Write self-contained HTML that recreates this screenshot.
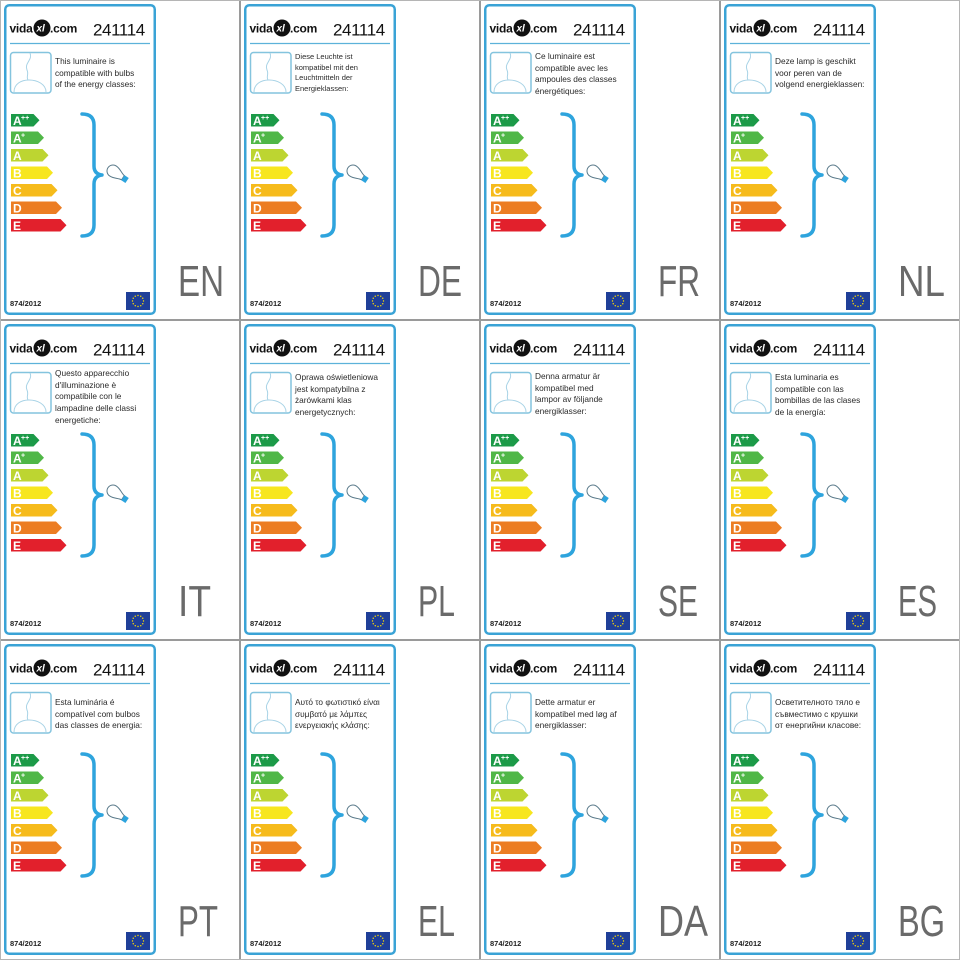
<!DOCTYPE html>
<html><head><meta charset="utf-8">
<style>
html,body{margin:0;padding:0;background:#fff;}
#wrap{position:relative;width:960px;height:960px;overflow:hidden;background:#fff;}
.cell{position:absolute;width:240px;height:320px;}
.cell svg{position:absolute;left:0;top:0;}
.txt{position:absolute;left:55px;font:8.3px/11.7px "Liberation Sans",sans-serif;color:#2a2a2a;white-space:nowrap;}
.vl{position:absolute;top:0;width:2px;height:960px;background:#9a9a9a;}
.hl{position:absolute;left:0;height:2px;width:960px;background:#9a9a9a;}
.L{font:bold 12px "Liberation Sans",sans-serif;fill:#fff;}
.S{font:bold 7px "Liberation Sans",sans-serif;fill:#fff;}
.lg{font:bold 12px "Liberation Sans",sans-serif;fill:#111;letter-spacing:-0.25px;}
.xl{font:italic bold 10px "Liberation Sans",sans-serif;fill:#fff;}
.nm{font:17px "Liberation Sans",sans-serif;fill:#111;letter-spacing:-0.4px;}
.rg{font:bold 7.5px "Liberation Sans",sans-serif;fill:#222;}
.cd{font:44px "Liberation Sans",sans-serif;fill:#6a6a6a;}
</style></head>
<body><div id="wrap">
<svg width="0" height="0" style="position:absolute">
<defs>
<g id="art">
<rect x="5.25" y="5.25" width="149.5" height="308.5" rx="4" fill="none" stroke="#3aa3d6" stroke-width="2.5"/>
<circle cx="42" cy="28" r="8.5" fill="#111"/>
<line x1="10" y1="43.5" x2="150" y2="43.5" stroke="#5cb2da" stroke-width="1.2"/>
<rect x="10.5" y="52.5" width="40.5" height="40.5" rx="3" fill="none" stroke="#84c4de" stroke-width="1.5"/>
<path d="M30,53 C33,60 24,63 27,70 C29,74 26,77 28,80" fill="none" stroke="#a8d3e6" stroke-width="1"/>
<path d="M14,92 C14,84 21,80 29,80 C37,80 46,84 46,92" fill="none" stroke="#a8d3e6" stroke-width="1"/>
<polygon points="11,114 33.5,114 39.5,120.25 33.5,126.5 11,126.5" fill="#1c9a48"/>
<polygon points="11,131.5 38,131.5 44,137.75 38,144 11,144" fill="#50b747"/>
<polygon points="11,149 42.5,149 48.5,155.25 42.5,161.5 11,161.5" fill="#bdd531"/>
<polygon points="11,166.5 47,166.5 53,172.75 47,179 11,179" fill="#f7e61e"/>
<polygon points="11,184 51.5,184 57.5,190.25 51.5,196.5 11,196.5" fill="#f6bb1b"/>
<polygon points="11,201.5 56,201.5 62,207.75 56,214 11,214" fill="#ec7d23"/>
<polygon points="11,219 60.5,219 66.5,225.25 60.5,231.5 11,231.5" fill="#e2202c"/>
<path d="M82,114 Q94,114 94,125 L94,166 Q94,174 102,175 Q94,176 94,184 L94,225 Q94,236 82,236" fill="none" stroke="#2ea4dd" stroke-width="3.5" stroke-linecap="round" stroke-linejoin="round"/>
<g transform="translate(113,171) rotate(34)">
<path d="M12,-2.5 C8,-3 5,-6 0,-6 A6,6 0 1 0 0,6 C5,6 8,3 12,2.5 Z" fill="#fff" stroke="#5a7a8a" stroke-width="1"/>
<rect x="12" y="-3" width="5" height="6" fill="#2ea4dd"/>
</g>
<rect x="126" y="292" width="24" height="18" fill="#1f3f98"/>
<g fill="#ffdd00">
<circle cx="143.5" cy="301" r="0.7"/><circle cx="142.76" cy="303.75" r="0.7"/><circle cx="140.75" cy="305.76" r="0.7"/><circle cx="138" cy="306.5" r="0.7"/><circle cx="135.25" cy="305.76" r="0.7"/><circle cx="133.24" cy="303.75" r="0.7"/><circle cx="132.5" cy="301" r="0.7"/><circle cx="133.24" cy="298.25" r="0.7"/><circle cx="135.25" cy="296.24" r="0.7"/><circle cx="138" cy="295.5" r="0.7"/><circle cx="140.75" cy="296.24" r="0.7"/><circle cx="142.76" cy="298.25" r="0.7"/>
</g>
</g>
</defs>
</svg>

<!-- Row 1 -->
<div class="cell" style="left:0;top:0">
<svg width="240" height="320"><use href="#art"/>
<text class="lg" x="9.5" y="32.5">vida</text><text class="xl" x="36.5" y="31.5">xl</text><text class="lg" x="50" y="32.5">.com</text>
<text class="nm" x="93" y="35.5">241114</text>
<text class="L" x="13" y="125">A</text><text class="S" x="21" y="120">++</text>
<text class="L" x="13" y="142.5">A</text><text class="S" x="21" y="137.5">+</text>
<text class="L" x="13" y="160">A</text><text class="L" x="13" y="177.5">B</text><text class="L" x="13" y="195">C</text><text class="L" x="13" y="212.5">D</text><text class="L" x="13" y="230">E</text>
<text class="rg" x="10" y="306">874/2012</text>
<text class="cd" x="178" y="296" textLength="46" lengthAdjust="spacingAndGlyphs">EN</text>
</svg>
<div class="txt" style="top:56px">This luminaire is<br>compatible with bulbs<br>of the energy classes:</div>
</div>

<div class="cell" style="left:240px;top:0">
<svg width="240" height="320"><use href="#art"/>
<text class="lg" x="9.5" y="32.5">vida</text><text class="xl" x="36.5" y="31.5">xl</text><text class="lg" x="50" y="32.5">.com</text>
<text class="nm" x="93" y="35.5">241114</text>
<text class="L" x="13" y="125">A</text><text class="S" x="21" y="120">++</text>
<text class="L" x="13" y="142.5">A</text><text class="S" x="21" y="137.5">+</text>
<text class="L" x="13" y="160">A</text><text class="L" x="13" y="177.5">B</text><text class="L" x="13" y="195">C</text><text class="L" x="13" y="212.5">D</text><text class="L" x="13" y="230">E</text>
<text class="rg" x="10" y="306">874/2012</text>
<text class="cd" x="178" y="296" textLength="44" lengthAdjust="spacingAndGlyphs">DE</text>
</svg>
<div class="txt" style="top:52px;font-size:7.5px;line-height:10.5px">Diese Leuchte ist<br>kompatibel mit den<br>Leuchtmitteln der<br>Energieklassen:</div>
</div>

<div class="cell" style="left:480px;top:0">
<svg width="240" height="320"><use href="#art"/>
<text class="lg" x="9.5" y="32.5">vida</text><text class="xl" x="36.5" y="31.5">xl</text><text class="lg" x="50" y="32.5">.com</text>
<text class="nm" x="93" y="35.5">241114</text>
<text class="L" x="13" y="125">A</text><text class="S" x="21" y="120">++</text>
<text class="L" x="13" y="142.5">A</text><text class="S" x="21" y="137.5">+</text>
<text class="L" x="13" y="160">A</text><text class="L" x="13" y="177.5">B</text><text class="L" x="13" y="195">C</text><text class="L" x="13" y="212.5">D</text><text class="L" x="13" y="230">E</text>
<text class="rg" x="10" y="306">874/2012</text>
<text class="cd" x="178" y="296" textLength="42" lengthAdjust="spacingAndGlyphs">FR</text>
</svg>
<div class="txt" style="top:51px">Ce luminaire est<br>compatible avec les<br>ampoules des classes<br>énergétiques:</div>
</div>

<div class="cell" style="left:720px;top:0">
<svg width="240" height="320"><use href="#art"/>
<text class="lg" x="9.5" y="32.5">vida</text><text class="xl" x="36.5" y="31.5">xl</text><text class="lg" x="50" y="32.5">.com</text>
<text class="nm" x="93" y="35.5">241114</text>
<text class="L" x="13" y="125">A</text><text class="S" x="21" y="120">++</text>
<text class="L" x="13" y="142.5">A</text><text class="S" x="21" y="137.5">+</text>
<text class="L" x="13" y="160">A</text><text class="L" x="13" y="177.5">B</text><text class="L" x="13" y="195">C</text><text class="L" x="13" y="212.5">D</text><text class="L" x="13" y="230">E</text>
<text class="rg" x="10" y="306">874/2012</text>
<text class="cd" x="178" y="296" textLength="47" lengthAdjust="spacingAndGlyphs">NL</text>
</svg>
<div class="txt" style="top:56px">Deze lamp is geschikt<br>voor peren van de<br>volgend energieklassen:</div>
</div>

<!-- Row 2 -->
<div class="cell" style="left:0;top:320px">
<svg width="240" height="320"><use href="#art"/>
<text class="lg" x="9.5" y="32.5">vida</text><text class="xl" x="36.5" y="31.5">xl</text><text class="lg" x="50" y="32.5">.com</text>
<text class="nm" x="93" y="35.5">241114</text>
<text class="L" x="13" y="125">A</text><text class="S" x="21" y="120">++</text>
<text class="L" x="13" y="142.5">A</text><text class="S" x="21" y="137.5">+</text>
<text class="L" x="13" y="160">A</text><text class="L" x="13" y="177.5">B</text><text class="L" x="13" y="195">C</text><text class="L" x="13" y="212.5">D</text><text class="L" x="13" y="230">E</text>
<text class="rg" x="10" y="306">874/2012</text>
<text class="cd" x="178" y="296" textLength="33" lengthAdjust="spacingAndGlyphs">IT</text>
</svg>
<div class="txt" style="top:48px">Questo apparecchio<br>d'illuminazione è<br>compatibile con le<br>lampadine delle classi<br>energetiche:</div>
</div>

<div class="cell" style="left:240px;top:320px">
<svg width="240" height="320"><use href="#art"/>
<text class="lg" x="9.5" y="32.5">vida</text><text class="xl" x="36.5" y="31.5">xl</text><text class="lg" x="50" y="32.5">.com</text>
<text class="nm" x="93" y="35.5">241114</text>
<text class="L" x="13" y="125">A</text><text class="S" x="21" y="120">++</text>
<text class="L" x="13" y="142.5">A</text><text class="S" x="21" y="137.5">+</text>
<text class="L" x="13" y="160">A</text><text class="L" x="13" y="177.5">B</text><text class="L" x="13" y="195">C</text><text class="L" x="13" y="212.5">D</text><text class="L" x="13" y="230">E</text>
<text class="rg" x="10" y="306">874/2012</text>
<text class="cd" x="178" y="296" textLength="37" lengthAdjust="spacingAndGlyphs">PL</text>
</svg>
<div class="txt" style="top:52px">Oprawa oświetleniowa<br>jest kompatybilna z<br>żarówkami klas<br>energetycznych:</div>
</div>

<div class="cell" style="left:480px;top:320px">
<svg width="240" height="320"><use href="#art"/>
<text class="lg" x="9.5" y="32.5">vida</text><text class="xl" x="36.5" y="31.5">xl</text><text class="lg" x="50" y="32.5">.com</text>
<text class="nm" x="93" y="35.5">241114</text>
<text class="L" x="13" y="125">A</text><text class="S" x="21" y="120">++</text>
<text class="L" x="13" y="142.5">A</text><text class="S" x="21" y="137.5">+</text>
<text class="L" x="13" y="160">A</text><text class="L" x="13" y="177.5">B</text><text class="L" x="13" y="195">C</text><text class="L" x="13" y="212.5">D</text><text class="L" x="13" y="230">E</text>
<text class="rg" x="10" y="306">874/2012</text>
<text class="cd" x="178" y="296" textLength="40" lengthAdjust="spacingAndGlyphs">SE</text>
</svg>
<div class="txt" style="top:51px">Denna armatur är<br>kompatibel med<br>lampor av följande<br>energiklasser:</div>
</div>

<div class="cell" style="left:720px;top:320px">
<svg width="240" height="320"><use href="#art"/>
<text class="lg" x="9.5" y="32.5">vida</text><text class="xl" x="36.5" y="31.5">xl</text><text class="lg" x="50" y="32.5">.com</text>
<text class="nm" x="93" y="35.5">241114</text>
<text class="L" x="13" y="125">A</text><text class="S" x="21" y="120">++</text>
<text class="L" x="13" y="142.5">A</text><text class="S" x="21" y="137.5">+</text>
<text class="L" x="13" y="160">A</text><text class="L" x="13" y="177.5">B</text><text class="L" x="13" y="195">C</text><text class="L" x="13" y="212.5">D</text><text class="L" x="13" y="230">E</text>
<text class="rg" x="10" y="306">874/2012</text>
<text class="cd" x="178" y="296" textLength="39" lengthAdjust="spacingAndGlyphs">ES</text>
</svg>
<div class="txt" style="top:52px">Esta luminaria es<br>compatible con las<br>bombillas de las clases<br>de la energía:</div>
</div>

<!-- Row 3 -->
<div class="cell" style="left:0;top:640px">
<svg width="240" height="320"><use href="#art"/>
<text class="lg" x="9.5" y="32.5">vida</text><text class="xl" x="36.5" y="31.5">xl</text><text class="lg" x="50" y="32.5">.com</text>
<text class="nm" x="93" y="35.5">241114</text>
<text class="L" x="13" y="125">A</text><text class="S" x="21" y="120">++</text>
<text class="L" x="13" y="142.5">A</text><text class="S" x="21" y="137.5">+</text>
<text class="L" x="13" y="160">A</text><text class="L" x="13" y="177.5">B</text><text class="L" x="13" y="195">C</text><text class="L" x="13" y="212.5">D</text><text class="L" x="13" y="230">E</text>
<text class="rg" x="10" y="306">874/2012</text>
<text class="cd" x="178" y="296" textLength="40" lengthAdjust="spacingAndGlyphs">PT</text>
</svg>
<div class="txt" style="top:57px">Esta luminária é<br>compatível com bulbos<br>das classes de energia:</div>
</div>

<div class="cell" style="left:240px;top:640px">
<svg width="240" height="320"><use href="#art"/>
<text class="lg" x="9.5" y="32.5">vida</text><text class="xl" x="36.5" y="31.5">xl</text><text class="lg" x="50" y="32.5">.com</text>
<text class="nm" x="93" y="35.5">241114</text>
<text class="L" x="13" y="125">A</text><text class="S" x="21" y="120">++</text>
<text class="L" x="13" y="142.5">A</text><text class="S" x="21" y="137.5">+</text>
<text class="L" x="13" y="160">A</text><text class="L" x="13" y="177.5">B</text><text class="L" x="13" y="195">C</text><text class="L" x="13" y="212.5">D</text><text class="L" x="13" y="230">E</text>
<text class="rg" x="10" y="306">874/2012</text>
<text class="cd" x="178" y="296" textLength="37" lengthAdjust="spacingAndGlyphs">EL</text>
</svg>
<div class="txt" style="top:57px">Αυτό το φωτιστικό είναι<br>συμβατό με λάμπες<br>ενεργειακής κλάσης:</div>
</div>

<div class="cell" style="left:480px;top:640px">
<svg width="240" height="320"><use href="#art"/>
<text class="lg" x="9.5" y="32.5">vida</text><text class="xl" x="36.5" y="31.5">xl</text><text class="lg" x="50" y="32.5">.com</text>
<text class="nm" x="93" y="35.5">241114</text>
<text class="L" x="13" y="125">A</text><text class="S" x="21" y="120">++</text>
<text class="L" x="13" y="142.5">A</text><text class="S" x="21" y="137.5">+</text>
<text class="L" x="13" y="160">A</text><text class="L" x="13" y="177.5">B</text><text class="L" x="13" y="195">C</text><text class="L" x="13" y="212.5">D</text><text class="L" x="13" y="230">E</text>
<text class="rg" x="10" y="306">874/2012</text>
<text class="cd" x="178" y="296" textLength="50" lengthAdjust="spacingAndGlyphs">DA</text>
</svg>
<div class="txt" style="top:57px">Dette armatur er<br>kompatibel med løg af<br>energiklasser:</div>
</div>

<div class="cell" style="left:720px;top:640px">
<svg width="240" height="320"><use href="#art"/>
<text class="lg" x="9.5" y="32.5">vida</text><text class="xl" x="36.5" y="31.5">xl</text><text class="lg" x="50" y="32.5">.com</text>
<text class="nm" x="93" y="35.5">241114</text>
<text class="L" x="13" y="125">A</text><text class="S" x="21" y="120">++</text>
<text class="L" x="13" y="142.5">A</text><text class="S" x="21" y="137.5">+</text>
<text class="L" x="13" y="160">A</text><text class="L" x="13" y="177.5">B</text><text class="L" x="13" y="195">C</text><text class="L" x="13" y="212.5">D</text><text class="L" x="13" y="230">E</text>
<text class="rg" x="10" y="306">874/2012</text>
<text class="cd" x="178" y="296" textLength="47" lengthAdjust="spacingAndGlyphs">BG</text>
</svg>
<div class="txt" style="top:57px">Осветителното тяло е<br>съвместимо с крушки<br>от енергийни класове:</div>
</div>

<!-- grid lines -->
<div class="vl" style="left:239px"></div>
<div class="vl" style="left:479px"></div>
<div class="vl" style="left:719px"></div>
<div class="hl" style="top:319px"></div>
<div class="hl" style="top:639px"></div>
<div style="position:absolute;left:0;top:0;width:958px;height:958px;border:1px solid #b5b5b5;"></div>
</div></body></html>
